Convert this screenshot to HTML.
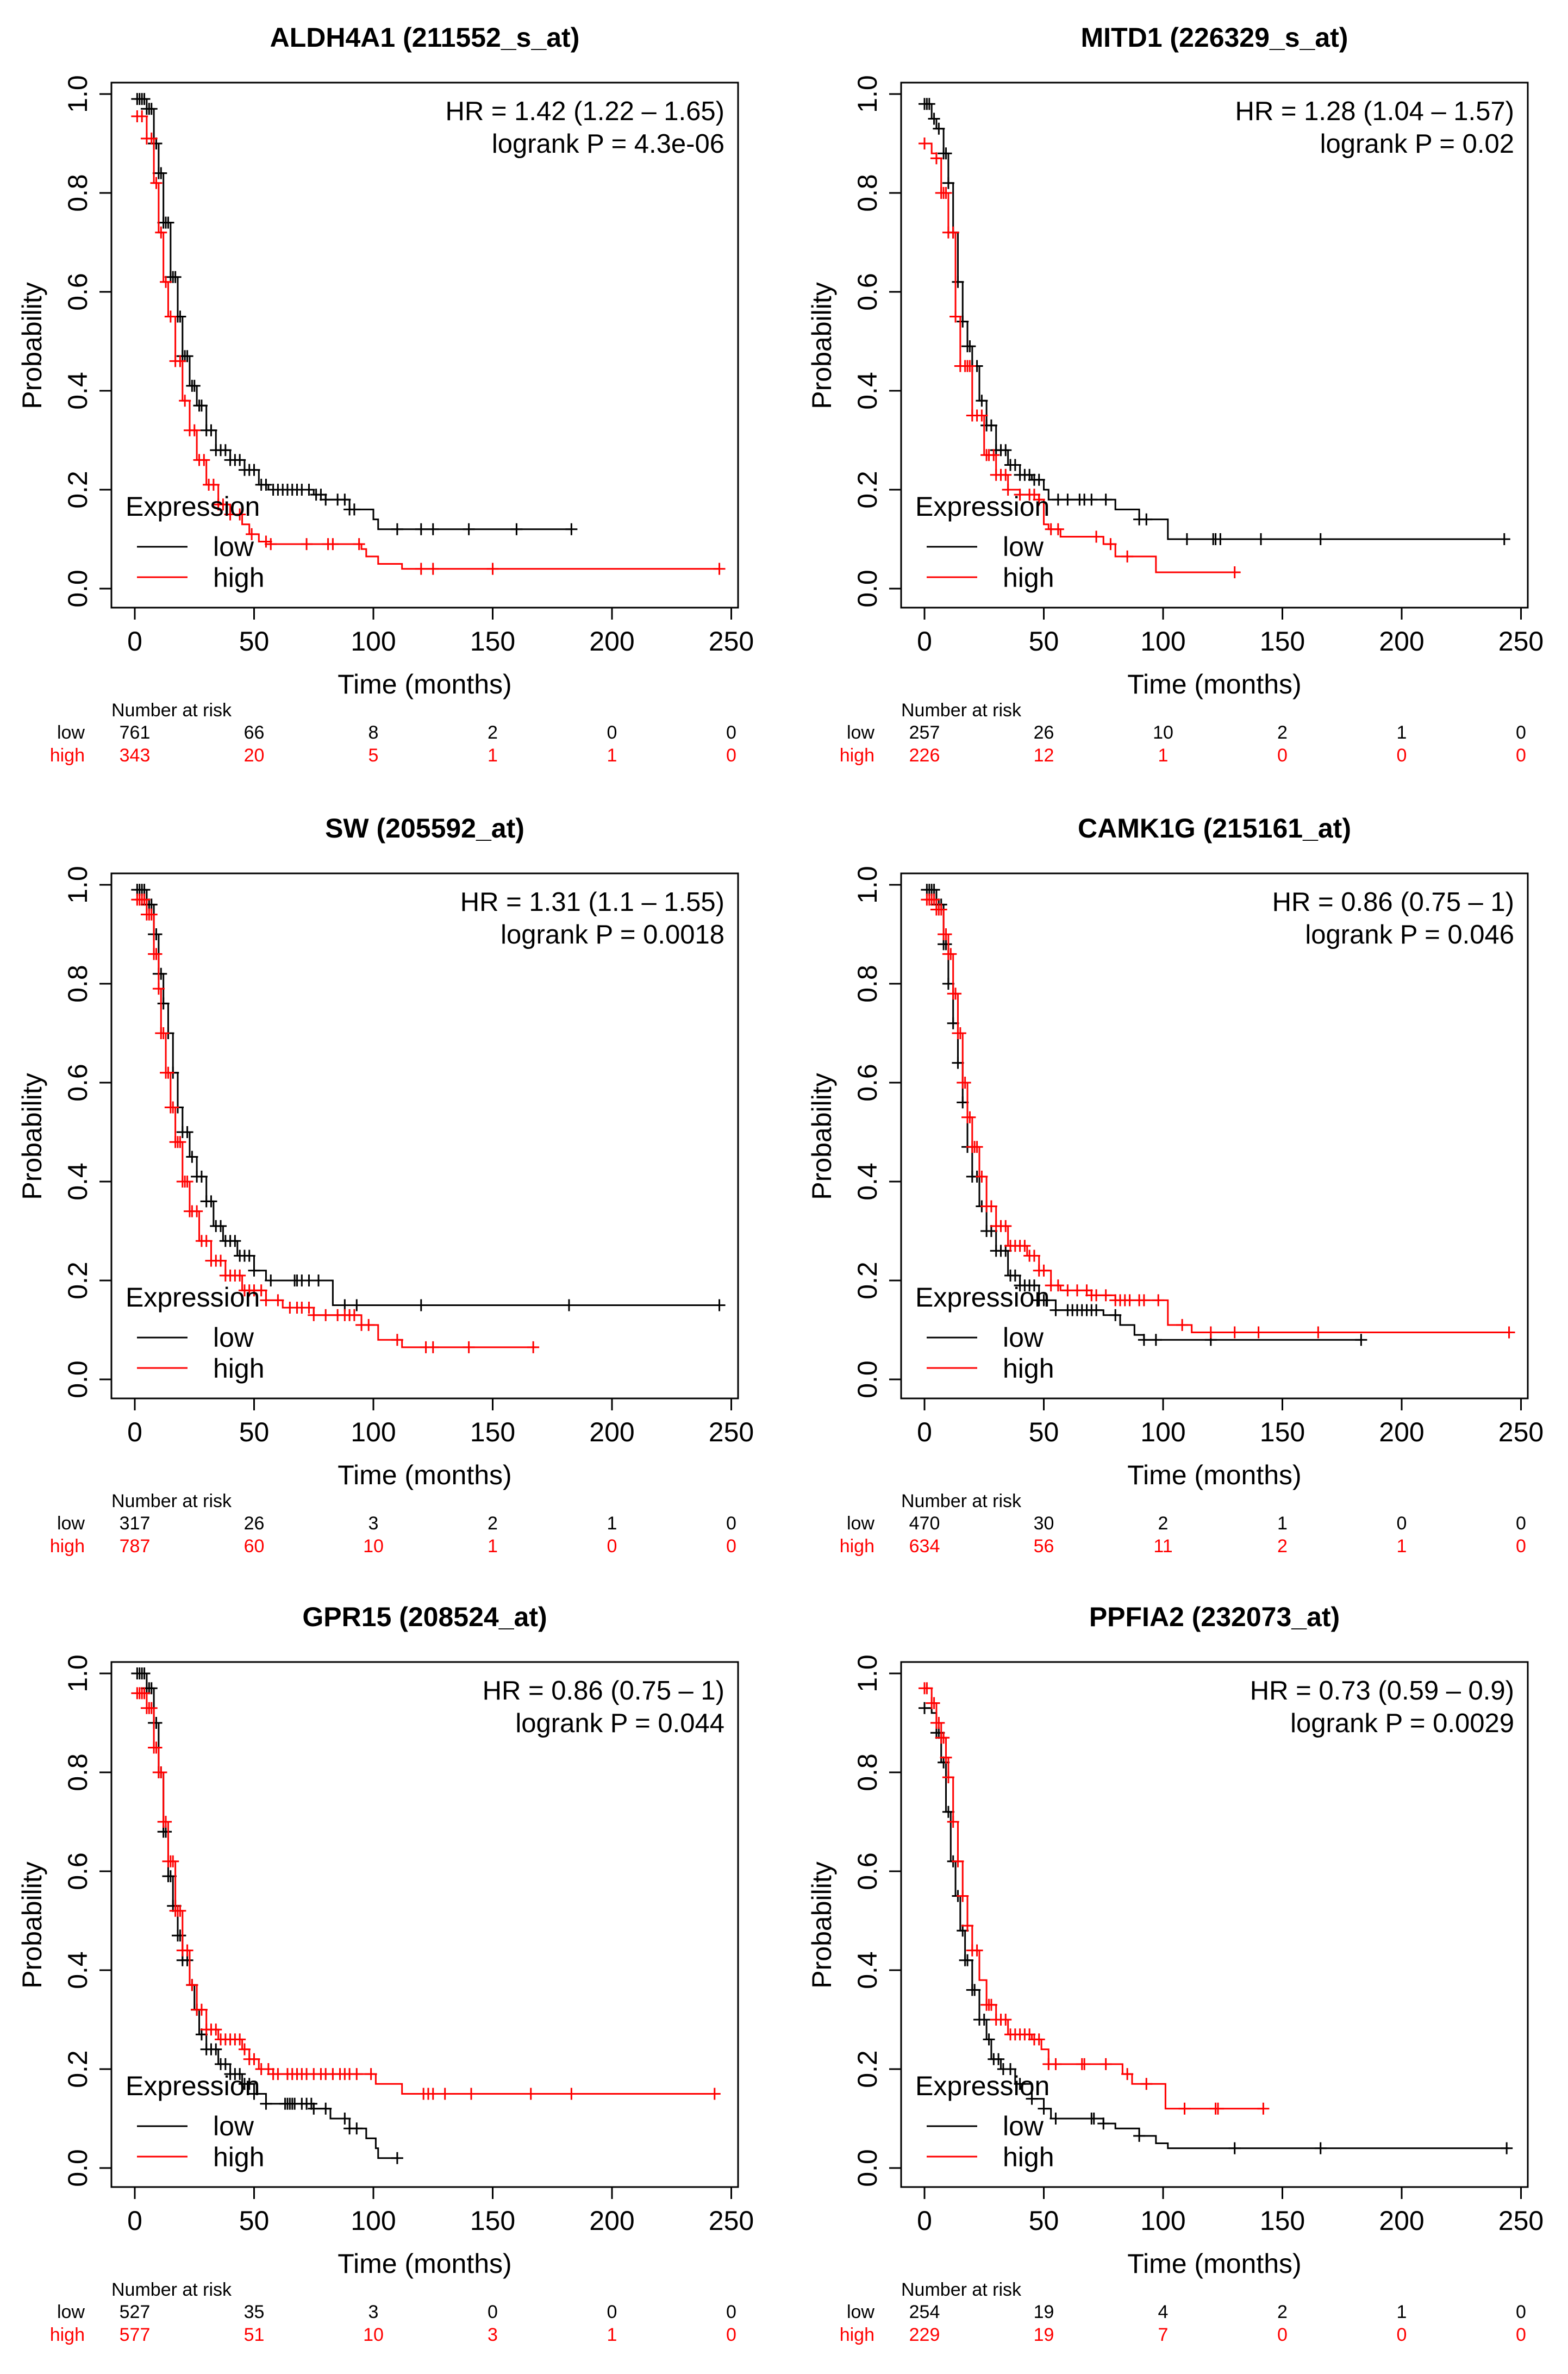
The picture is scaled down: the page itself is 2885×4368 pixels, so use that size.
<!DOCTYPE html>
<html><head><meta charset="utf-8"><style>
html,body{margin:0;padding:0;background:#fff}
svg{display:block}
text{font-family:"Liberation Sans",Arial,sans-serif}
</style></head><body>
<svg id="chart" xmlns="http://www.w3.org/2000/svg" width="2885" height="4368" viewBox="0 0 2885 4368">
<rect width="2885" height="4368" fill="#fff"/>
</svg>
<script>
// ---- data ----
const titles = ["ALDH4A1 (211552_s_at)","MITD1 (226329_s_at)","SW (205592_at)","CAMK1G (215161_at)","GPR15 (208524_at)","PPFIA2 (232073_at)"];
const hrLines = ["HR = 1.42 (1.22 \u2013 1.65)","HR = 1.28 (1.04 \u2013 1.57)","HR = 1.31 (1.1 \u2013 1.55)","HR = 0.86 (0.75 \u2013 1)","HR = 0.86 (0.75 \u2013 1)","HR = 0.73 (0.59 \u2013 0.9)"];
const pLines = ["logrank P = 4.3e-06","logrank P = 0.02","logrank P = 0.0018","logrank P = 0.046","logrank P = 0.044","logrank P = 0.0029"];
const xTicks = [0,50,100,150,200,250];
const yTicks = [0,0.2,0.4,0.6,0.8,1.0];
const yTickLabels = ["0.0","0.2","0.4","0.6","0.8","1.0"];
const riskLow = [[761,66,8,2,0,0],[257,26,10,2,1,0],[317,26,3,2,1,0],[470,30,2,1,0,0],[527,35,3,0,0,0],[254,19,4,2,1,0]];
const riskHigh = [[343,20,5,1,1,0],[226,12,1,0,0,0],[787,60,10,1,0,0],[634,56,11,2,1,0],[577,51,10,3,1,0],[229,19,7,0,0,0]];

const p1LowT = [0,5,8,10,12,15,18,20,23,26,30,34,40,46,52,56,75,80,90,100,102,183];
const p1LowS = [0.99,0.97,0.9,0.84,0.74,0.63,0.55,0.47,0.41,0.37,0.32,0.28,0.26,0.24,0.21,0.2,0.19,0.18,0.16,0.14,0.12,0.12];
const p1HighT = [0,5,8,10,12,14,17,20,23,26,30,35,40,45,48,52,57,95,97,102,112,245];
const p1HighS = [0.955,0.91,0.82,0.72,0.62,0.55,0.46,0.38,0.32,0.26,0.21,0.17,0.15,0.13,0.11,0.095,0.09,0.08,0.065,0.05,0.04,0.04];
const p1LowC = [1,2,3,4,5,6,7,8,9,10,11,12,13,14,15,16,17,18,19,20,21,22,24,25,27,28,30,32,34,36,38,40,42,44,46,48,50,53,55,58,60,62,64,66,68,70,73,76,78,80,85,88,90,92,110,120,125,140,160,183];
const p1HighC = [1,3,5,7,9,11,13,15,17,19,21,23,25,27,29,31,33,35,37,40,44,49,55,57,72,81,83,94,120,125,150,245];

const p2LowT = [0,3,5,8,10,12,14,16,18,20,23,26,30,35,40,45,50,52,80,90,100,102,245];
const p2LowS = [0.98,0.95,0.93,0.88,0.82,0.72,0.62,0.54,0.49,0.45,0.38,0.33,0.28,0.25,0.23,0.22,0.2,0.18,0.16,0.14,0.14,0.10,0.10];
const p2HighT = [0,3,5,7,10,13,15,20,25,30,35,40,48,50,52,57,75,80,97,130];
const p2HighS = [0.9,0.88,0.87,0.8,0.72,0.55,0.45,0.35,0.27,0.23,0.2,0.19,0.18,0.13,0.12,0.105,0.09,0.065,0.033,0.033];
const p2LowC = [0,1,2,4,6,8,9,10,12,14,16,18,19,20,22,24,26,28,30,32,34,36,38,40,42,44,46,48,56,60,65,67,70,76,90,93,110,121,122,124,141,166,243];
const p2HighC = [0,5,7,8,9,10,12,13,15,17,18,19,20,22,24,26,27,29,30,32,34,35,40,44,46,48,53,56,72,78,85,130];

const p3LowT = [0,5,8,10,12,14,16,18,20,23,26,30,33,37,43,50,55,82,83,245];
const p3LowS = [0.99,0.96,0.9,0.82,0.76,0.7,0.62,0.55,0.5,0.45,0.41,0.36,0.31,0.28,0.25,0.22,0.2,0.2,0.15,0.15];
const p3HighT = [0,5,8,10,11,13,15,17,20,23,27,32,38,45,55,62,75,95,102,112,168];
const p3HighS = [0.97,0.94,0.86,0.79,0.7,0.62,0.55,0.48,0.4,0.34,0.28,0.24,0.21,0.18,0.16,0.145,0.13,0.11,0.08,0.065,0.065];
const p3LowC = [1,2,3,4,5,6,7,8,9,10,11,12,14,16,18,20,22,24,26,28,30,32,34,36,38,40,42,44,46,48,50,57,67,68,70,73,77,88,93,120,182,245];
const p3HighC = [1,2,3,4,5,6,7,8,9,10,11,12,13,14,15,16,17,18,19,20,21,22,23,24,26,28,30,32,34,36,38,40,42,44,46,48,50,53,55,60,65,68,70,73,75,80,85,88,90,92,95,98,110,122,125,140,167];

const p4LowT = [0,5,8,10,12,14,16,18,20,23,26,30,35,40,48,55,75,82,88,92,183];
const p4LowS = [0.99,0.96,0.88,0.8,0.72,0.64,0.56,0.47,0.41,0.35,0.3,0.26,0.21,0.19,0.16,0.14,0.13,0.11,0.09,0.08,0.08];
const p4HighT = [0,5,8,10,12,14,16,18,20,23,26,30,35,43,48,53,57,70,80,101,102,112,245];
const p4HighS = [0.97,0.95,0.9,0.86,0.78,0.7,0.6,0.53,0.47,0.41,0.35,0.31,0.27,0.25,0.22,0.19,0.18,0.17,0.16,0.16,0.11,0.095,0.095];
const p4LowC = [1,2,3,4,5,6,7,8,9,10,12,14,16,18,20,22,24,26,28,30,32,34,36,38,40,42,44,46,48,50,55,60,62,64,66,68,70,72,80,92,97,120,183];
const p4HighC = [1,2,3,4,5,6,7,8,9,10,11,12,13,14,15,16,17,18,19,20,21,22,24,26,28,30,32,34,36,38,40,42,44,46,48,50,53,56,60,64,68,70,72,76,80,82,84,86,90,92,98,108,120,130,140,165,245];

const p5LowT = [0,5,8,10,12,14,16,18,20,23,25,27,30,35,40,45,50,55,75,82,90,97,101,102,110];
const p5LowS = [1.0,0.97,0.9,0.8,0.68,0.59,0.53,0.47,0.42,0.37,0.32,0.27,0.24,0.21,0.19,0.17,0.15,0.13,0.12,0.1,0.08,0.06,0.04,0.02,0.02];
const p5HighT = [0,5,8,10,12,14,17,20,23,26,30,35,45,48,52,58,100,101,112,245];
const p5HighS = [0.96,0.93,0.85,0.8,0.7,0.62,0.52,0.44,0.37,0.32,0.28,0.26,0.24,0.22,0.2,0.19,0.19,0.17,0.15,0.15];
const p5LowC = [1,2,3,4,5,6,7,8,9,10,11,12,13,14,15,16,17,18,19,20,22,24,26,28,30,32,34,36,38,40,42,44,46,48,50,55,63,64,65,66,67,70,72,74,75,80,88,90,93,110];
const p5HighC = [1,2,3,4,5,6,7,8,9,10,11,12,13,14,15,16,17,18,19,20,22,24,26,28,30,32,34,36,38,40,42,44,46,48,50,53,56,58,60,64,66,68,70,72,75,78,80,83,86,88,90,93,99,121,123,125,130,141,166,183,243];

const p6LowT = [0,3,5,7,9,11,13,15,17,20,23,26,28,32,38,45,50,53,75,80,90,97,102,245];
const p6LowS = [0.93,0.92,0.88,0.82,0.72,0.62,0.55,0.48,0.42,0.36,0.3,0.26,0.22,0.2,0.17,0.14,0.12,0.1,0.09,0.08,0.065,0.05,0.04,0.04];
const p6HighT = [0,3,5,7,9,10,12,14,16,18,20,23,26,30,35,45,49,52,80,83,87,100,101,142];
const p6HighS = [0.97,0.94,0.9,0.87,0.83,0.79,0.7,0.62,0.55,0.49,0.44,0.38,0.33,0.3,0.27,0.26,0.24,0.21,0.21,0.19,0.17,0.17,0.12,0.12];
const p6LowC = [0,5,6,8,10,12,14,16,17,18,20,21,23,25,27,29,31,33,36,40,45,50,55,70,71,75,90,130,166,244];
const p6HighC = [0,1,3,4,5,6,7,8,9,10,12,14,16,18,20,22,26,27,28,30,32,34,36,38,40,42,44,46,48,52,55,66,67,76,85,93,109,122,123,142];

const panelData = [
 [p1LowT,p1LowS,p1LowC,p1HighT,p1HighS,p1HighC],
 [p2LowT,p2LowS,p2LowC,p2HighT,p2HighS,p2HighC],
 [p3LowT,p3LowS,p3LowC,p3HighT,p3HighS,p3HighC],
 [p4LowT,p4LowS,p4LowC,p4HighT,p4HighS,p4HighC],
 [p5LowT,p5LowS,p5LowC,p5HighT,p5HighS,p5HighC],
 [p6LowT,p6LowS,p6LowC,p6HighT,p6HighS,p6HighC]
];

// ---- drawing ----
const NS="http://www.w3.org/2000/svg";
const svg=document.getElementById('chart');
function mk(tag,attrs,parent,txt){const e=document.createElementNS(NS,tag);for(const k in attrs)e.setAttribute(k,attrs[k]);if(txt!==undefined)e.textContent=txt;parent.appendChild(e);return e;}

const colOff=[0,1453], rowOff=[0,1455,2906];
function stepAt(T,S,t){let v=S[0];for(let i=0;i<T.length;i++){if(T[i]<=t)v=S[i];}return v;}

panelData.forEach((pd,pi)=>{
  const dx=colOff[pi%2], dy=rowOff[Math.floor(pi/2)];
  const x=t=>dx+248+t*4.39;
  const y=s=>dy+1083-s*910;
  const bL=dx+205,bR=dx+1358,bT=dy+152,bB=dy+1118;
  const g=mk('g',{},svg);
  
  
  const t=mk('text',{x:(bL+bR)/2,y:dy+86,'text-anchor':'middle','font-size':50,'font-weight':'bold'},g,titles[pi]);
  
  const box=mk('rect',{x:bL,y:bT,width:bR-bL,height:bB-bT,fill:'none',stroke:'#000','stroke-width':3},g);
  
  const ya=mk('g',{},g);
  yTicks.forEach((v,i)=>{
    mk('line',{x1:bL,x2:bL-22,y1:y(v),y2:y(v),stroke:'#000','stroke-width':3},ya);
    const tx=bL-45;
    mk('text',{x:tx,y:y(v),transform:`rotate(-90 ${tx} ${y(v)})`,'text-anchor':'middle','font-size':50},ya,yTickLabels[i]);
  });
  const yl=mk('text',{x:dx+76,y:dy+636,transform:`rotate(-90 ${dx+76} ${dy+636})`,'text-anchor':'middle','font-size':50},g,'Probability');
  
  const xa=mk('g',{},g);
  xTicks.forEach(v=>{
    mk('line',{x1:x(v),x2:x(v),y1:bB,y2:bB+22,stroke:'#000','stroke-width':3},xa);
    mk('text',{x:x(v),y:dy+1197,'text-anchor':'middle','font-size':50},xa,String(v));
  });
  const xl=mk('text',{x:(bL+bR)/2,y:dy+1276,'text-anchor':'middle','font-size':50},g,'Time (months)');
  
  const hr=mk('text',{x:bR-25,y:dy+221,'text-anchor':'end','font-size':49},g,hrLines[pi]);
  
  const pv=mk('text',{x:bR-25,y:dy+281,'text-anchor':'end','font-size':49},g,pLines[pi]);
  
  [['low','#000',0],['high','#f00',3]].forEach(([nm,col,k])=>{
    const T=pd[k],S=pd[k+1],C=pd[k+2];
    let d=`M${x(T[0])},${y(S[0])}`;
    for(let i=1;i<T.length;i++){d+=` H${x(T[i])} V${y(S[i])}`;}
    const p=mk('path',{d:d,fill:'none',stroke:col,'stroke-width':3},g);
    
    const cg=mk('g',{stroke:col,'stroke-width':3},g);
    
    let cd='';
    C.forEach(c=>{const cx=x(c),cy=y(stepAt(T,S,c));cd+=`M${cx-11},${cy}H${cx+11}M${cx},${cy-11}V${cy+11}`;});
    mk('path',{d:cd,fill:'none'},cg);
  });
  const lg=mk('g',{},g);
  mk('text',{x:dx+231,y:dy+949,'font-size':50},lg,'Expression');
  mk('line',{x1:dx+252,x2:dx+345,y1:dy+1006,y2:dy+1006,stroke:'#000','stroke-width':3},lg);
  mk('text',{x:dx+392,y:dy+1023,'font-size':50},lg,'low');
  mk('line',{x1:dx+252,x2:dx+345,y1:dy+1062,y2:dy+1062,stroke:'#f00','stroke-width':3},lg);
  mk('text',{x:dx+392,y:dy+1080,'font-size':50},lg,'high');
  const rt=mk('g',{'font-size':34},g);
  mk('text',{x:bL,y:dy+1318},rt,'Number at risk');
  mk('text',{x:dx+156,y:dy+1359,'text-anchor':'end'},rt,'low');
  mk('text',{x:dx+156,y:dy+1401,'text-anchor':'end',fill:'#f00'},rt,'high');
  xTicks.forEach((v,i)=>{
    mk('text',{x:x(v),y:dy+1359,'text-anchor':'middle'},rt,String(riskLow[pi][i]));
    mk('text',{x:x(v),y:dy+1401,'text-anchor':'middle',fill:'#f00'},rt,String(riskHigh[pi][i]));
  });
});
</script>
</body></html>
